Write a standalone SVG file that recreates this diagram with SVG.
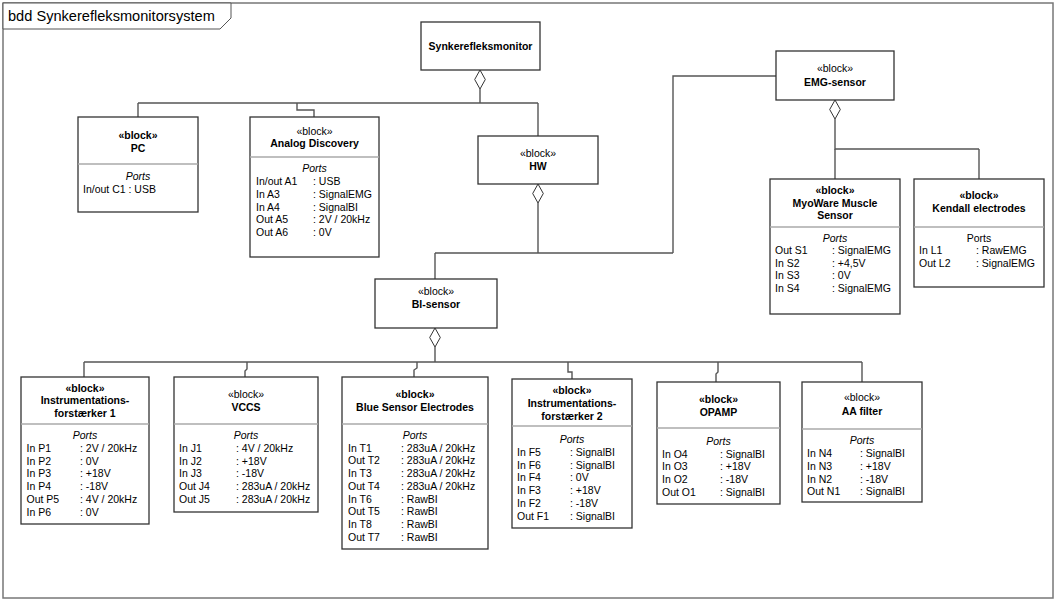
<svg xmlns="http://www.w3.org/2000/svg" width="1056" height="601" viewBox="0 0 1056 601">
<style>
.frame{fill:#fff;stroke:#777;stroke-width:1.5}
.tab{fill:#fff;stroke:#555;stroke-width:1}
.box{fill:#fff;stroke:#333;stroke-width:1.3}
.sep{stroke:#aaa;stroke-width:1.5}
.conn{fill:none;stroke:#555;stroke-width:1.4}
.dia{fill:#fff;stroke:#333;stroke-width:1}
text{font-family:"Liberation Sans",Arial,sans-serif;font-size:10.5px;fill:#000}
.b{font-weight:bold}
.c{text-anchor:middle}
.i{font-style:italic}
.title{font-size:14.6px}
</style>
<rect class="frame" x="3" y="3" width="1050" height="595"/>
<polygon class="tab" points="3,3 231,3 231,18 220,29 3,29"/>
<text class="title" x="8" y="21">bdd Synkerefleksmonitorsystem</text>

<g id="connectors">
<polyline class="conn" points="480,89 480,103"/>
<polyline class="conn" points="138,103 538,103"/>
<polyline class="conn" points="138,103 138,117"/>
<polyline class="conn" points="297,103 297,110 314,110 314,117"/>
<polyline class="conn" points="538,103 538,136"/>
<polyline class="conn" points="538,203 538,253"/>
<polyline class="conn" points="435,253 673,253"/>
<polyline class="conn" points="435,253 435,279"/>
<polyline class="conn" points="673,253 673,76 776,76"/>
<polyline class="conn" points="835,119 835,149 979,149"/>
<polyline class="conn" points="835,149 835,179"/>
<polyline class="conn" points="979,149 979,179"/>
<polyline class="conn" points="435,347 435,362"/>
<polyline class="conn" points="84,362 862,362"/>
<polyline class="conn" points="84,362 84,377"/>
<polyline class="conn" points="247,362 247,369 245,371 245,377"/>
<polyline class="conn" points="417,362 417,368 414,370 414,377"/>
<polyline class="conn" points="568,362 568,372 572,372 572,379"/>
<polyline class="conn" points="718,362 718,372 716,374 716,382"/>
<polyline class="conn" points="862,362 862,382"/>
<polygon class="dia" points="480,70 485.3,79.5 480,89 474.7,79.5"/>
<polygon class="dia" points="538,184 543.3,193.5 538,203 532.7,193.5"/>
<polygon class="dia" points="835,100 840.3,109.5 835,119 829.7,109.5"/>
<polygon class="dia" points="435,328 440.3,337.5 435,347 429.7,337.5"/>
</g>

<g id="synkerefleksmonitor">
<rect class="box" x="421" y="22" width="119" height="48"/>
<text class="b c" x="480.5" y="50">Synkerefleksmonitor</text>
</g>

<g id="pc">
<rect class="box" x="78" y="117" width="120" height="95"/>
<line class="sep" x1="78" y1="164" x2="198" y2="164"/>
<text class="b c" x="138" y="138.5">«block»</text>
<text class="b c" x="138" y="151.5">PC</text>
<text class="i c" x="138" y="180">Ports</text>
<text x="83" y="193">In/out C1 : USB</text>
</g>

<g id="analog-discovery">
<rect class="box" x="250" y="117" width="129" height="140"/>
<line class="sep" x1="250" y1="157" x2="379" y2="157"/>
<text class="c" x="314.5" y="134.5">«block»</text>
<text class="b c" x="314.5" y="147">Analog Discovery</text>
<text class="i c" x="314.5" y="172">Ports</text>
<text x="256" y="185">In/out A1</text><text x="313" y="185">: USB</text>
<text x="256" y="197.8">In A3</text><text x="313" y="197.8">: SignalEMG</text>
<text x="256" y="210.6">In A4</text><text x="313" y="210.6">: SignalBI</text>
<text x="256" y="223.4">Out A5</text><text x="313" y="223.4">: 2V / 20kHz</text>
<text x="256" y="236.2">Out A6</text><text x="313" y="236.2">: 0V</text>
</g>

<g id="hw">
<rect class="box" x="478" y="136" width="120" height="48"/>
<text class="c" x="538" y="157">«block»</text>
<text class="b c" x="538" y="170">HW</text>
</g>

<g id="emg-sensor">
<rect class="box" x="776" y="51" width="118" height="49"/>
<text class="c" x="835" y="72">«block»</text>
<text class="b c" x="835" y="85.5">EMG-sensor</text>
</g>

<g id="myoware">
<rect class="box" x="770" y="179" width="130" height="135"/>
<line class="sep" x1="770" y1="227" x2="900" y2="227"/>
<text class="b c" x="835" y="193.5">«block»</text>
<text class="b c" x="835" y="206.5">MyoWare Muscle</text>
<text class="b c" x="835" y="219">Sensor</text>
<text class="i c" x="835" y="242">Ports</text>
<text x="775" y="254">Out S1</text><text x="832" y="254">: SignalEMG</text>
<text x="775" y="266.7">In S2</text><text x="832" y="266.7">: +4,5V</text>
<text x="775" y="279.4">In S3</text><text x="832" y="279.4">: 0V</text>
<text x="775" y="292.1">In S4</text><text x="832" y="292.1">: SignalEMG</text>
</g>

<g id="kendall">
<rect class="box" x="914" y="179" width="130" height="108"/>
<line class="sep" x1="914" y1="227" x2="1044" y2="227"/>
<text class="b c" x="979" y="199">«block»</text>
<text class="b c" x="979" y="211.5">Kendall electrodes</text>
<text class="c" x="979" y="242">Ports</text>
<text x="919" y="254">In L1</text><text x="976" y="254">: RawEMG</text>
<text x="919" y="266.7">Out L2</text><text x="976" y="266.7">: SignalEMG</text>
</g>

<g id="bi-sensor">
<rect class="box" x="375" y="279" width="122" height="49"/>
<text class="c" x="436" y="295">«block»</text>
<text class="b c" x="436" y="307.5">BI-sensor</text>
</g>

<g id="instrumentationsforstaerker-1">
<rect class="box" x="21" y="377" width="128" height="147"/>
<line class="sep" x1="21" y1="424" x2="149" y2="424"/>
<text class="b c" x="85" y="391.5">«block»</text>
<text class="b c" x="85" y="404">Instrumentations-</text>
<text class="b c" x="85" y="416.5">forstærker 1</text>
<text class="i c" x="85" y="439">Ports</text>
<text x="26.5" y="452">In P1</text><text x="80" y="452">: 2V / 20kHz</text>
<text x="26.5" y="464.7">In P2</text><text x="80" y="464.7">: 0V</text>
<text x="26.5" y="477.4">In P3</text><text x="80" y="477.4">: +18V</text>
<text x="26.5" y="490.1">In P4</text><text x="80" y="490.1">: -18V</text>
<text x="26.5" y="502.8">Out P5</text><text x="80" y="502.8">: 4V / 20kHz</text>
<text x="26.5" y="515.5">In P6</text><text x="80" y="515.5">: 0V</text>
</g>

<g id="vccs">
<rect class="box" x="174" y="377" width="144" height="135"/>
<line class="sep" x1="174" y1="424" x2="318" y2="424"/>
<text class="c" x="246" y="397.5">«block»</text>
<text class="b c" x="246" y="411">VCCS</text>
<text class="i c" x="246" y="439">Ports</text>
<text x="179" y="452">In J1</text><text x="236" y="452">: 4V / 20kHz</text>
<text x="179" y="464.7">In J2</text><text x="236" y="464.7">: +18V</text>
<text x="179" y="477.4">In J3</text><text x="236" y="477.4">: -18V</text>
<text x="179" y="490.1">Out J4</text><text x="236" y="490.1">: 283uA / 20kHz</text>
<text x="179" y="502.8">Out J5</text><text x="236" y="502.8">: 283uA / 20kHz</text>
</g>

<g id="blue-sensor-electrodes">
<rect class="box" x="342" y="377" width="146" height="172"/>
<line class="sep" x1="342" y1="424" x2="488" y2="424"/>
<text class="b c" x="415" y="397.5">«block»</text>
<text class="b c" x="415" y="411">Blue Sensor Electrodes</text>
<text class="i c" x="415" y="439">Ports</text>
<text x="348" y="451.7">In T1</text><text x="401" y="451.7">: 283uA / 20kHz</text>
<text x="348" y="464.4">Out T2</text><text x="401" y="464.4">: 283uA / 20kHz</text>
<text x="348" y="477.1">In T3</text><text x="401" y="477.1">: 283uA / 20kHz</text>
<text x="348" y="489.8">Out T4</text><text x="401" y="489.8">: 283uA / 20kHz</text>
<text x="348" y="502.5">In T6</text><text x="401" y="502.5">: RawBI</text>
<text x="348" y="515.2">Out T5</text><text x="401" y="515.2">: RawBI</text>
<text x="348" y="527.9">In T8</text><text x="401" y="527.9">: RawBI</text>
<text x="348" y="540.6">Out T7</text><text x="401" y="540.6">: RawBI</text>
</g>

<g id="instrumentationsforstaerker-2">
<rect class="box" x="512" y="379" width="120" height="149"/>
<line class="sep" x1="512" y1="426" x2="632" y2="426"/>
<text class="b c" x="572" y="394">«block»</text>
<text class="b c" x="572" y="406.5">Instrumentations-</text>
<text class="b c" x="572" y="420">forstærker 2</text>
<text class="i c" x="572" y="442.5">Ports</text>
<text x="517" y="456">In F5</text><text x="570" y="456">: SignalBI</text>
<text x="517" y="468.7">In F6</text><text x="570" y="468.7">: SignalBI</text>
<text x="517" y="481.4">In F4</text><text x="570" y="481.4">: 0V</text>
<text x="517" y="494.1">In F3</text><text x="570" y="494.1">: +18V</text>
<text x="517" y="506.8">In F2</text><text x="570" y="506.8">: -18V</text>
<text x="517" y="519.5">Out F1</text><text x="570" y="519.5">: SignalBI</text>
</g>

<g id="opamp">
<rect class="box" x="657" y="382" width="123" height="122"/>
<line class="sep" x1="657" y1="428" x2="780" y2="428"/>
<text class="b c" x="718.5" y="402.5">«block»</text>
<text class="b c" x="718.5" y="415.5">OPAMP</text>
<text class="i c" x="718.5" y="445">Ports</text>
<text x="662" y="457.7">In O4</text><text x="720" y="457.7">: SignalBI</text>
<text x="662" y="470.4">In O3</text><text x="720" y="470.4">: +18V</text>
<text x="662" y="483.1">In O2</text><text x="720" y="483.1">: -18V</text>
<text x="662" y="495.8">Out O1</text><text x="720" y="495.8">: SignalBI</text>
</g>

<g id="aa-filter">
<rect class="box" x="802" y="382" width="120" height="120"/>
<line class="sep" x1="802" y1="429" x2="922" y2="429"/>
<text class="c" x="862" y="401">«block»</text>
<text class="b c" x="862" y="415">AA filter</text>
<text class="i c" x="862" y="444">Ports</text>
<text x="807" y="457.3">In N4</text><text x="860" y="457.3">: SignalBI</text>
<text x="807" y="470">In N3</text><text x="860" y="470">: +18V</text>
<text x="807" y="482.7">In N2</text><text x="860" y="482.7">: -18V</text>
<text x="807" y="495.4">Out N1</text><text x="860" y="495.4">: SignalBI</text>
</g>
</svg>
